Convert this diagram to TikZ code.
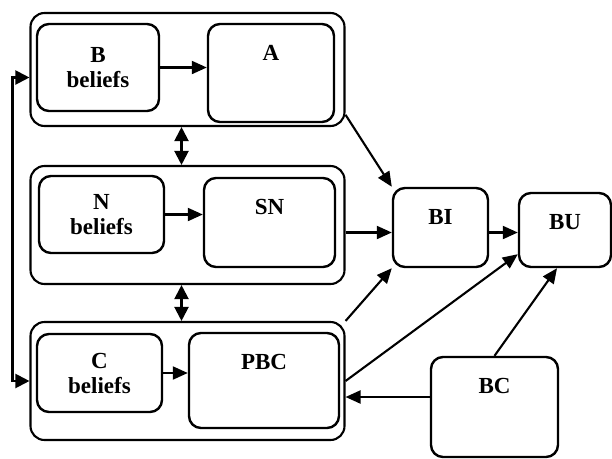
\documentclass[tikz,border=0pt]{standalone}
\usepackage{fontspec}
\setmainfont{Liberation Serif}
\usepackage{tikz}
\usetikzlibrary{arrows.meta,calc}
\tikzset{
  tpbox/.style={
    draw,
    rounded corners=12pt,
    align=center,
    inner sep=0pt,
    font=\bfseries\fontsize{23}{25}\selectfont,
    line width=2.4pt
  },
  tpgroup/.style={draw, rounded corners=14pt, minimum width=314pt, inner sep=0pt, line width=2.1pt},
  tptitle/.style={anchor=center, yshift=-30pt, inner sep=0pt, font=\bfseries\fontsize{23}{25}\selectfont},
  tparrow/.style={-{Triangle[length=15pt,width=13pt]}, line width=2.1pt},
  tpboth/.style={{Triangle[length=14pt,width=14pt]}-{Triangle[length=14pt,width=14pt]}, line width=2.1pt}
}
\begin{document}
\begin{tikzpicture}[x=1pt,y=-1pt]
\useasboundingbox (0,0) rectangle (612,458);
% three groups on the left
\node[tpgroup, minimum height=113pt] (grpb) at (187.5,69.5) {};
\node[tpgroup, minimum height=118pt] (grpn) at (187.5,225) {};
\node[tpgroup, minimum height=118pt] (grpc) at (187.5,381) {};
\node[tpbox, minimum width=122pt, minimum height=87pt] (bb) at (98,67.5) {B\\beliefs};
\node[tpbox, minimum width=126pt, minimum height=98pt, label={[tptitle]north:A}] (att) at (271,73) {};
\node[tpbox, minimum width=125pt, minimum height=77pt] (nb) at (101.5,214.5) {N\\beliefs};
\node[tpbox, minimum width=131pt, minimum height=89pt, label={[tptitle]north:SN}] (sn) at (269.5,222.5) {};
\node[tpbox, minimum width=125pt, minimum height=78pt] (cb) at (99.5,373) {C\\beliefs};
\node[tpbox, minimum width=150pt, minimum height=95pt, label={[tptitle]north:PBC}] (pbc) at (264,380.5) {};
% right side
\node[tpbox, minimum width=95pt, minimum height=79pt, label={[tptitle]north:BI}] (bi) at (440.5,227.5) {};
\node[tpbox, minimum width=92pt, minimum height=74pt, label={[tptitle]north:BU}] (bu) at (565,230) {};
\node[tpbox, minimum width=127pt, minimum height=100pt, label={[tptitle]north:BC}] (bc) at (494.5,407) {};
\coordinate (biy) at ($(bi.west)+(0,5)$);
\coordinate (bcout) at ($(bc.west)+(0,-10)$);
\draw[tparrow] (bb.east) -- (bb.east -| att.west);
\draw[tparrow] (nb.east) -- (nb.east -| sn.west);
\draw[tparrow] (cb.east) -- (cb.east -| pbc.west);
\draw[tpboth] ($(grpb.south)+(-6,0)$) -- ($(grpn.north)+(-6,0)$);
\draw[tpboth] ($(grpn.south)+(-6,0)$) -- ($(grpc.north)+(-6,0)$);
\draw[tpboth] ($(grpb.west)+(0,8)$) -- ++(-17,0) |- (grpc.west);
\draw[tparrow] (grpb.-16) -- (bi.north west);
\draw[tparrow] (biy -| grpn.east) -- (biy);
\draw[tparrow] (biy -| bi.east) -- (biy -| bu.west);
\draw[tparrow] (grpc.north east) -- (bi.south west);
\draw[tparrow] (grpc.east) -- ($(bu.south west)+(0,-14)$);
\draw[tparrow] (bc.north) -- ($(bu.south)+(-8,0)$);
\draw[tparrow] (bcout) -- (bcout -| grpc.east);
\end{tikzpicture}
\end{document}
